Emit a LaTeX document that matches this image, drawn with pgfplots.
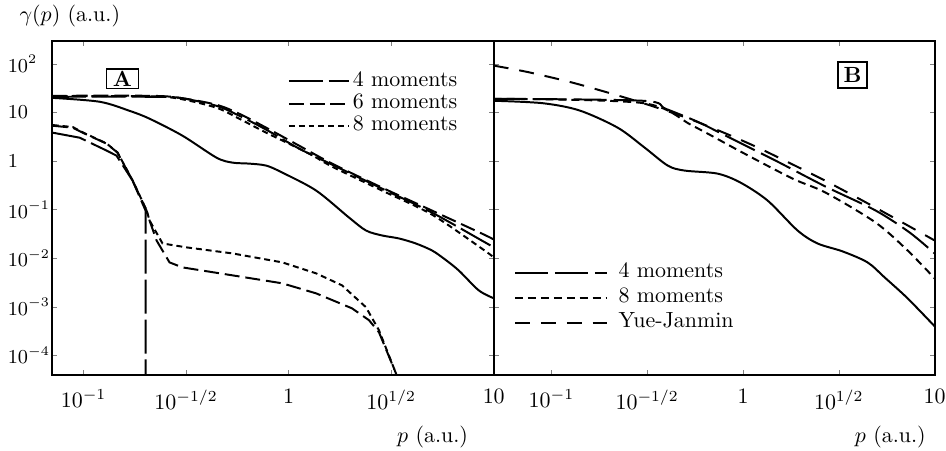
\documentclass[border=0pt]{standalone}
\usepackage{pgfplots}
\pgfplotsset{compat=1.18}
\tikzset{
  curv/.style={black, line width=0.9pt},
  aF/.style={curv, dash pattern=on 15.5pt off 2.7pt},
  aS/.style={curv, dash pattern=on 6.8pt off 2.7pt},
  aE/.style={curv, dash pattern=on 2.7pt off 1.8pt},
  bF/.style={curv, dash pattern=on 15pt off 3.2pt},
  bE/.style={curv, dash pattern=on 3.6pt off 2.3pt},
  bY/.style={curv, dash pattern=on 6.8pt off 5pt},
}
\begin{document}
\begin{tikzpicture}
% ---------------- panel A ----------------
\begin{axis}[
  scale only axis, xmode=log, ymode=log,
  height=152.3pt, ymin=3.9e-5, ymax=295, xmax=10,
  axis line style={line width=0.9pt},
  major tick length=2.2pt,
  tick align=inside,
  xminorticks=false, yminorticks=false,
  xtick={0.1,0.316228,1,3.16228,10},
  xticklabels={$10^{-1}$,$10^{-1/2}$,$1$,$10^{1/2}$,$10$},
  ytick={1e-4,1e-3,1e-2,1e-1,1,10,100},
  xticklabel style={yshift=-3pt},
  yticklabel style={font=\small, text width=16.5pt, align=left},
  legend cell align=left,
  at={(0,0)}, anchor=south west, width=201.4pt, xmin=0.07,
  yticklabels={$10^{-4}$,$10^{-3}$,$10^{-2}$,$10^{-1}$,$1$,$10$,$10^{2}$},
  legend style={draw=none, fill=none, inner sep=0pt, at={(0.533,0.914)}, anchor=north west,
    nodes={inner xsep=1.5pt, inner ysep=0pt, text height=7.2pt, text depth=3pt}},
  legend image code/.code={\draw[#1] (0pt,0pt) -- (27.3pt,0pt);},
]
\addplot[aF, smooth] coordinates {(0.070,21.0) (0.2098,21.0) (0.294,20.0) (0.4446,13.7) (0.5744,8.55) (0.7776,4.42) (1.125,1.80) (1.629,0.844) (2.851,0.271) (4.989,0.0873) (8.73,0.0232) (10,0.0167)};
\addlegendentry{4 moments}
\addplot[aS, smooth] coordinates {(0.070,22.0) (0.2098,22.0) (0.294,20.0) (0.4446,14.4) (0.5744,9.4) (0.7776,4.85) (1.125,2.07) (1.629,0.885) (2.851,0.284) (4.989,0.096) (8.73,0.0323) (10,0.0243)};
\addlegendentry{6 moments}
\addplot[aE, smooth] coordinates {(0.070,21.5) (0.2098,21.5) (0.294,19.1) (0.4446,12.5) (0.5744,7.43) (0.7776,3.83) (1.259,1.42) (1.629,0.768) (2.851,0.247) (4.989,0.0793) (8.73,0.0159) (10,0.0104)};
\addlegendentry{8 moments}
\addplot[curv, smooth, forget plot] coordinates {(0.070,20.0) (0.1198,16.6) (0.1675,10.8) (0.2098,7.43) (0.3034,3.33) (0.4446,1.175) (0.5315,0.928) (0.6427,0.885) (0.7776,0.805) (0.9311,0.578) (1.361,0.247) (1.968,0.0689) (2.382,0.0372) (2.851,0.0294) (3.45,0.0255) (4.169,0.0201) (4.989,0.0145) (5.70,0.0099) (6.75,0.0056) (8.45,0.00218) (10,0.0015)};
\addplot[aF, forget plot] coordinates {(0.0708,3.83) (0.0958,3.02) (0.1295,1.64) (0.1448,1.29) (0.1734,0.396) (0.2005,0.096) (0.2005,1e-6)};
\addplot[aS, forget plot] coordinates {(0.0708,5.33) (0.0886,4.85) (0.099,3.83) (0.1295,2.28) (0.1464,1.49) (0.1734,0.396) (0.2027,0.096) (0.2098,0.0598) (0.2269,0.0232) (0.2625,0.0082) (0.3034,0.00647) (0.5315,0.00444) (0.9311,0.00304) (1.361,0.00189) (2.036,0.00093) (2.464,0.00053) (2.756,0.0003) (3.334,4.3e-5) (3.6,1e-5)};
\addplot[aE, forget plot] coordinates {(0.0708,5.5) (0.0886,5.0) (0.099,3.9) (0.1295,2.3) (0.1464,1.5) (0.1734,0.40) (0.2027,0.098) (0.2098,0.0598) (0.2427,0.0201) (0.3177,0.0167) (0.5315,0.01256) (0.9311,0.0082) (1.361,0.00488) (1.821,0.00276) (2.382,0.00098) (2.756,0.00033) (3.334,4.3e-5) (3.6,1e-5)};
\node[draw, line width=0.7pt, inner xsep=3pt, inner ysep=1pt, font=\bfseries] at (rel axis cs:0.160,0.887) {A};
\end{axis}
% ---------------- panel B ----------------
\begin{axis}[
  scale only axis, xmode=log, ymode=log,
  height=152.3pt, ymin=3.9e-5, ymax=295, xmax=10,
  axis line style={line width=0.9pt},
  major tick length=2.2pt,
  tick align=inside,
  xminorticks=false, yminorticks=false,
  xtick={0.1,0.316228,1,3.16228,10},
  xticklabels={$10^{-1}$,$10^{-1/2}$,$1$,$10^{1/2}$,$10$},
  ytick={1e-4,1e-3,1e-2,1e-1,1,10,100},
  xticklabel style={yshift=-3pt},
  legend cell align=left,
  at={(201.4pt,0)}, anchor=south west, width=200.9pt, xmin=0.05,
  yticklabels={},
  legend style={draw=none, fill=none, inner sep=0pt, at={(0.045,0.345)}, anchor=north west,
    nodes={inner xsep=5pt, inner ysep=0pt, text height=8pt, text depth=3.4pt}},
  legend image code/.code={\draw[#1] (0pt,0pt) -- (41.8pt,0pt);},
]
\addplot[bF, smooth] coordinates {(0.05,19.1) (0.2994,17.4) (0.3945,11.9) (0.579,6.44) (0.811,3.33) (1.479,1.02) (2.697,0.298) (4.917,0.096) (7.40,0.0339) (10,0.01256)};
\addlegendentry{4 moments}
\addplot[bE, smooth] coordinates {(0.05,19.1) (0.2994,15.6) (0.5455,5.33) (0.995,1.49) (1.815,0.435) (2.697,0.224) (4.917,0.0543) (7.22,0.0145) (10,0.00385)};
\addlegendentry{8 moments}
\addplot[bY, smooth] coordinates {(0.05,92) (0.0751,68) (0.126,42) (0.2015,25) (0.318,14.5) (0.514,7.6) (0.811,3.7) (1.192,1.9) (1.815,0.85) (2.697,0.39) (4.467,0.135) (6.81,0.054) (10,0.0232)};
\addlegendentry{Yue-Janmin}
\addplot[curv, smooth, forget plot] coordinates {(0.05,17.4) (0.09,15.5) (0.14,11) (0.222,4.85) (0.307,1.88) (0.405,0.805) (0.496,0.636) (0.736,0.551) (0.970,0.36) (1.343,0.154) (1.926,0.0372) (2.449,0.0201) (3.311,0.0138) (4.467,0.0082) (5.478,0.00404) (7.22,0.0015) (10,0.000398)};
\node[draw, line width=0.7pt, inner xsep=2.5pt, inner ysep=2.5pt, font=\bfseries] at (rel axis cs:0.814,0.899) {B};
\end{axis}
\node[anchor=west] at (-18.2pt,163.6pt) {$\gamma(p)$ (a.u.)};
\node[anchor=east] at (193.2pt,-28.2pt) {$p$ (a.u.)};
\node[anchor=east] at (401.8pt,-28.2pt) {$p$ (a.u.)};
\pgfresetboundingbox
\path (-23.6pt,-34.5pt) rectangle (407.5pt,171.0pt);
\end{tikzpicture}
\end{document}
